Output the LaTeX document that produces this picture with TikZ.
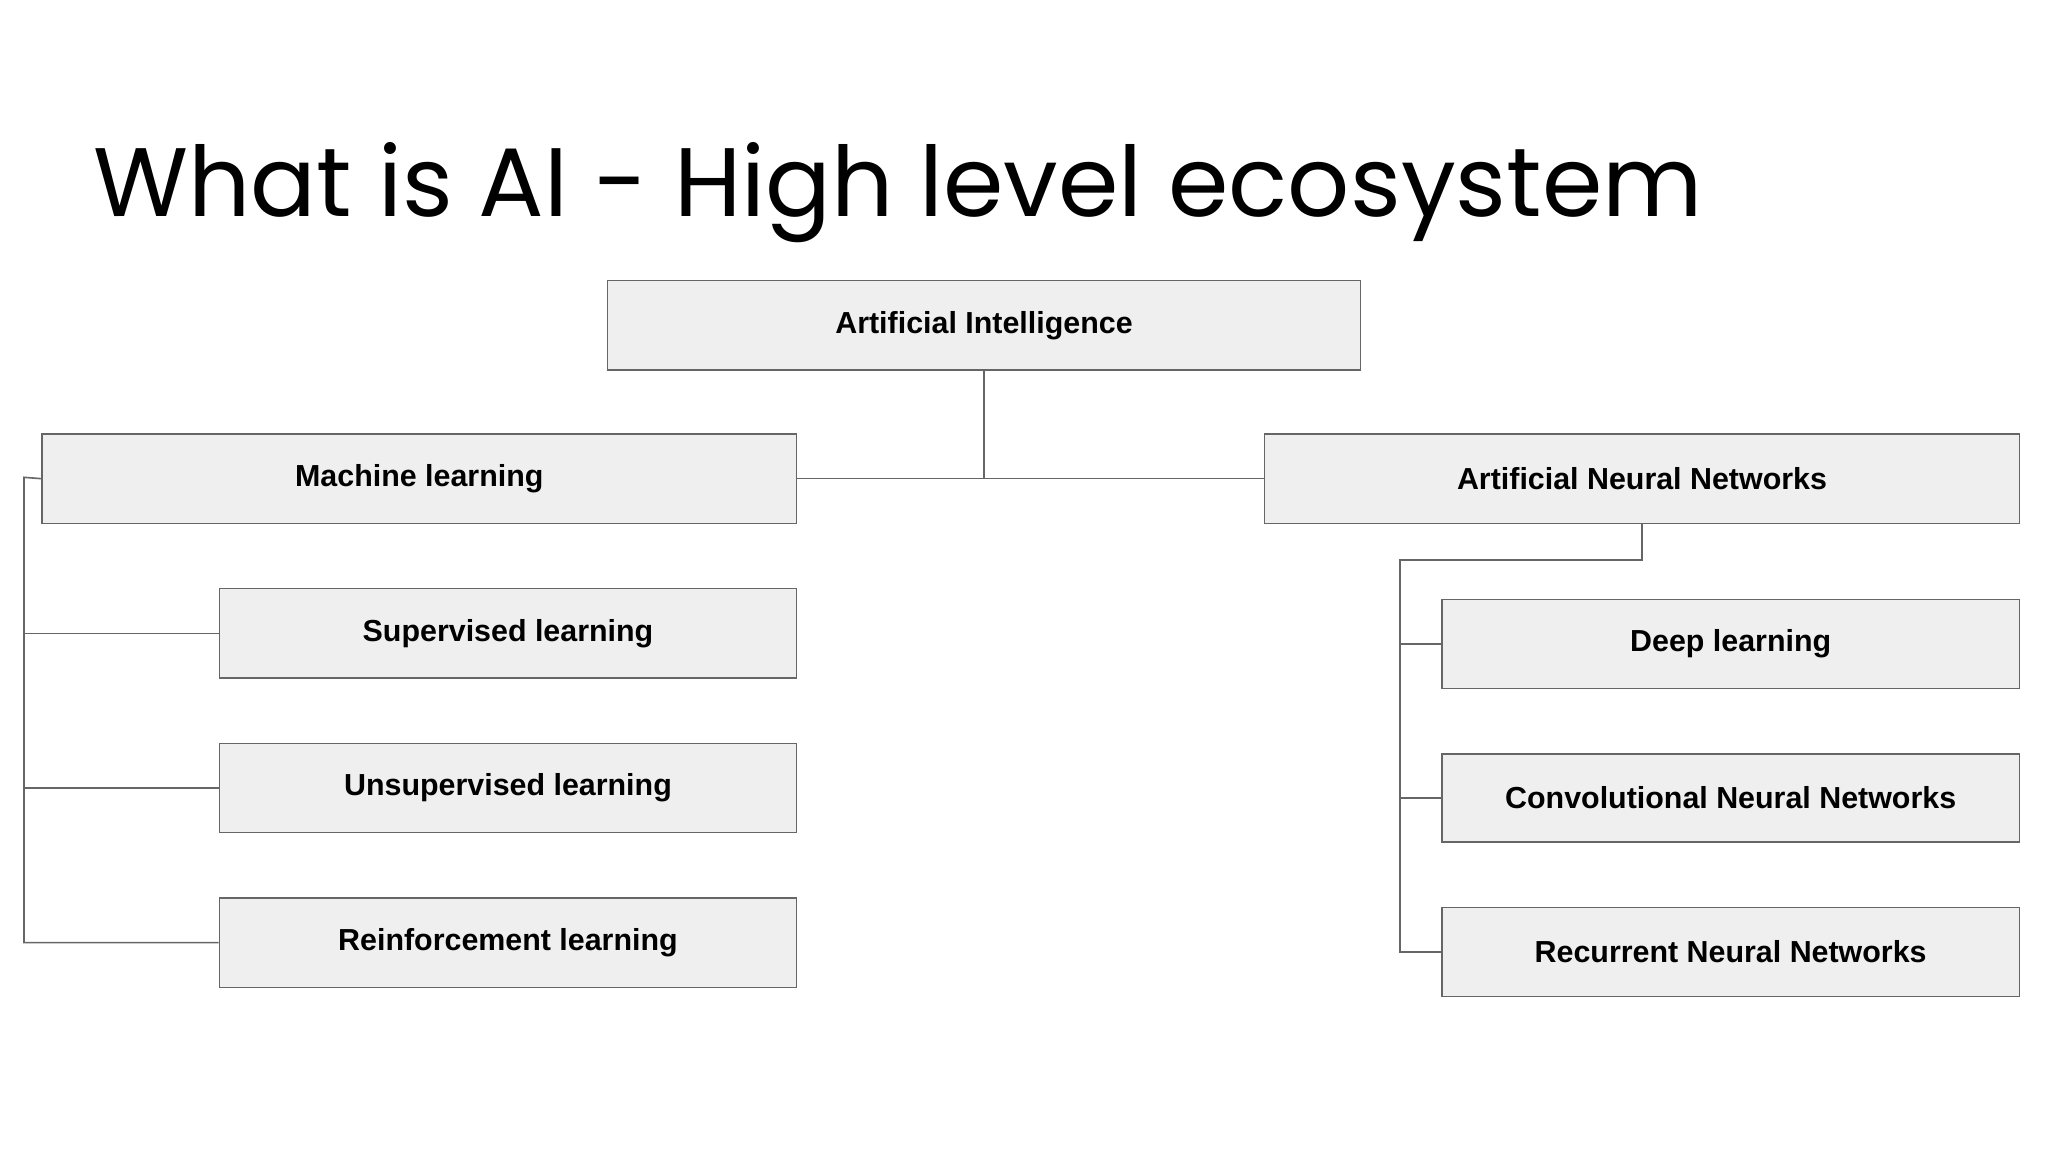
\documentclass[tikz,border=0pt]{standalone}
\usepackage{fontspec}
\setmainfont{Liberation Sans}
\newfontfamily\titlefont{Poppins}
\definecolor{boxfill}{HTML}{EFEFEF}
\definecolor{boxline}{HTML}{666666}
\begin{document}
\begin{tikzpicture}[x=1pt,y=-1pt,
  bx/.style={draw=boxline,fill=boxfill,line width=1pt,anchor=north west,inner sep=0pt,font=\fontsize{22.8}{26}\selectfont\bfseries},
  ln/.style={draw=boxline,line width=1.2pt}]
\useasboundingbox (0,0) rectangle (1536,864);
\node[anchor=base west,inner sep=0pt,font=\titlefont\fontsize{73}{84}\selectfont] (title) at (70,162) {What is AI - High level ecosystem};
\newcommand\mkbox[6]{\node[bx,minimum width=#4-#2,minimum height=#5-#3] (#1) at (#2,#3) {#6};}
\mkbox{ai}{455}{210}{1020}{277}{Artificial Intelligence}
\mkbox{ml}{31}{325}{597}{392}{Machine learning}
\mkbox{ann}{948}{325}{1514}{392}{Artificial Neural Networks}
\mkbox{sup}{164}{441}{597}{508}{Supervised learning}
\mkbox{uns}{164}{557}{597}{624}{Unsupervised learning}
\mkbox{rei}{164}{673}{597}{740}{Reinforcement learning}
\mkbox{dl}{1081}{449}{1514}{516}{Deep learning}
\mkbox{cnn}{1081}{565}{1514}{631}{Convolutional Neural Networks}
\mkbox{rnn}{1081}{680}{1514}{747}{Recurrent Neural Networks}
\coordinate (lt) at (18,358);
\coordinate (rt) at (1050,420);
\draw[ln] (ai.south) -- (ai.south |- ml.east);
\draw[ln] (ml.east) -- (ann.west);
\draw[ln] (ml.west) -- (lt) |- (rei.west);
\draw[ln] (lt |- sup.west) -- (sup.west);
\draw[ln] (lt |- uns.west) -- (uns.west);
\draw[ln] (ann.south) |- (rt) |- (rnn.west);
\draw[ln] (rt |- dl.west) -- (dl.west);
\draw[ln] (rt |- cnn.west) -- (cnn.west);
\end{tikzpicture}
\end{document}
